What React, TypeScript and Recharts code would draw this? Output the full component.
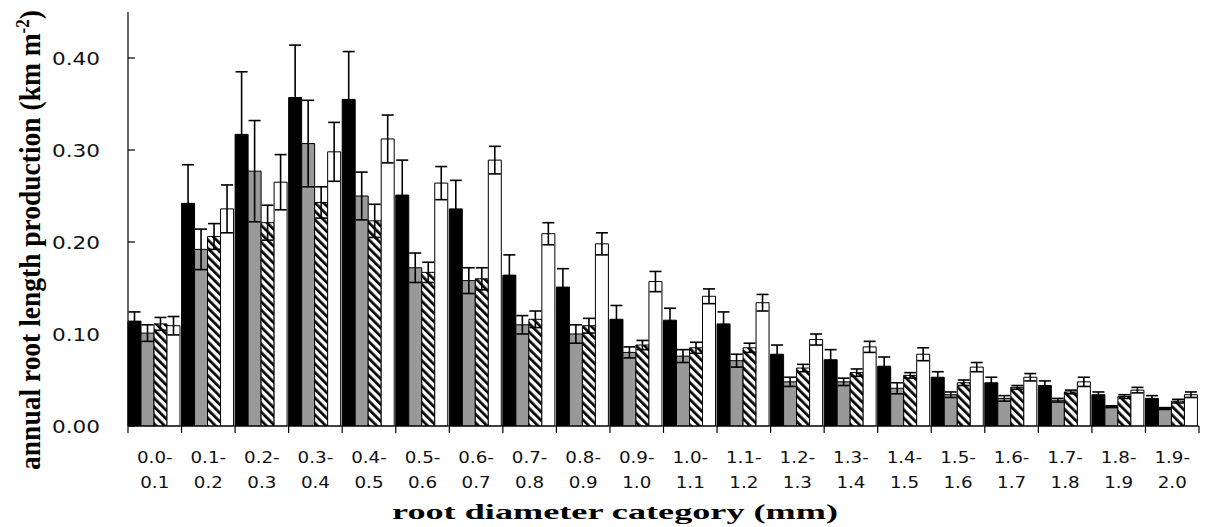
import React from 'react';
import { BarChart, Bar, XAxis, YAxis, ErrorBar } from 'recharts';

// Root diameter classes (mm)
const lowerBounds = ['0.0', '0.1', '0.2', '0.3', '0.4', '0.5', '0.6', '0.7', '0.8', '0.9',
  '1.0', '1.1', '1.2', '1.3', '1.4', '1.5', '1.6', '1.7', '1.8', '1.9'];
const upperBounds = ['0.1', '0.2', '0.3', '0.4', '0.5', '0.6', '0.7', '0.8', '0.9', '1.0',
  '1.1', '1.2', '1.3', '1.4', '1.5', '1.6', '1.7', '1.8', '1.9', '2.0'];

// Annual root length production (km m-2) and standard errors, four treatments
const seriesA = [0.114, 0.242, 0.317, 0.357, 0.355, 0.251, 0.236, 0.164, 0.151, 0.116,
  0.115, 0.111, 0.078, 0.072, 0.065, 0.053, 0.047, 0.044, 0.034, 0.030];
const errA = [0.010, 0.042, 0.068, 0.057, 0.052, 0.038, 0.031, 0.022, 0.020, 0.015,
  0.013, 0.013, 0.010, 0.011, 0.010, 0.006, 0.006, 0.005, 0.003, 0.003];

const seriesB = [0.101, 0.192, 0.277, 0.307, 0.250, 0.172, 0.158, 0.110, 0.100, 0.080,
  0.076, 0.071, 0.048, 0.048, 0.041, 0.034, 0.030, 0.028, 0.021, 0.019];
const errB = [0.009, 0.022, 0.055, 0.047, 0.026, 0.016, 0.014, 0.010, 0.010, 0.006,
  0.007, 0.007, 0.005, 0.004, 0.006, 0.003, 0.003, 0.002, 0.001, 0.001];

const seriesC = [0.111, 0.206, 0.221, 0.243, 0.223, 0.167, 0.160, 0.116, 0.109, 0.088,
  0.085, 0.085, 0.063, 0.058, 0.055, 0.047, 0.042, 0.037, 0.032, 0.027];
const errC = [0.007, 0.014, 0.019, 0.017, 0.018, 0.011, 0.012, 0.009, 0.008, 0.005,
  0.006, 0.005, 0.004, 0.004, 0.003, 0.003, 0.002, 0.002, 0.002, 0.002];

const seriesD = [0.109, 0.236, 0.265, 0.298, 0.312, 0.264, 0.289, 0.209, 0.198, 0.157,
  0.141, 0.134, 0.094, 0.086, 0.078, 0.064, 0.053, 0.048, 0.039, 0.034];
const errD = [0.010, 0.026, 0.030, 0.032, 0.026, 0.018, 0.015, 0.012, 0.012, 0.011,
  0.008, 0.009, 0.006, 0.006, 0.007, 0.005, 0.004, 0.005, 0.003, 0.003];

const yTicks = [0, 0.1, 0.2, 0.3, 0.4];

const data = lowerBounds.map((lo, i) => ({
  category: `${lo}-${upperBounds[i]}`,
  a: seriesA[i], aErr: errA[i],
  b: seriesB[i], bErr: errB[i],
  c: seriesC[i], cErr: errC[i],
  d: seriesD[i], dErr: errD[i],
}));

const CHART_W = 1195;
const CHART_H = 519;
const MARGIN = { top: 4, right: 4, left: 0, bottom: 41 };
const Y_AXIS_W = 120;
const HALF_BAND = (CHART_W - MARGIN.left - MARGIN.right - Y_AXIS_W) / lowerBounds.length / 2;

const TICK_FONT = '"DejaVu Sans", sans-serif';
const TITLE_FONT = '"Liberation Serif", "Times New Roman", serif';

function XTick(props: any) {
  const { x, y, payload, index } = props;
  const i = payload?.index ?? index;
  const half = payload?.offset || HALF_BAND;
  const last = i === lowerBounds.length - 1;
  return (
    <g>
      <line x1={x - half} x2={x - half} y1={y} y2={y + 7} stroke="#000" strokeWidth={1.2} />
      {last && <line x1={x + half} x2={x + half} y1={y} y2={y + 7} stroke="#000" strokeWidth={1.2} />}
      <text transform={`translate(${x},${y + 37}) scale(1.22,1)`} textAnchor="middle"
        fontSize={15} fontFamily={TICK_FONT} fill="#111">{`${lowerBounds[i]}-`}</text>
      <text transform={`translate(${x},${y + 62}) scale(1.22,1)`} textAnchor="middle"
        fontSize={15} fontFamily={TICK_FONT} fill="#111">{upperBounds[i]}</text>
    </g>
  );
}

function YTick(props: any) {
  const { x, y, payload } = props;
  return (
    <g>
      <line x1={x} x2={x + 7} y1={y} y2={y} stroke="#000" strokeWidth={1.2} />
      <text transform={`translate(${x - 28},${y + 6.5}) scale(1.2,1)`} textAnchor="end"
        fontSize={18} fontFamily={TICK_FONT} fill="#111">{Number(payload.value).toFixed(2)}</text>
    </g>
  );
}

function YTitle(props: any) {
  const vb = props.viewBox || { x: 0, y: 4, width: 120, height: 414 };
  const cx = vb.x + 32;
  const cy = vb.y + vb.height / 2 + 21;
  return (
    <text transform={`translate(${cx},${cy}) scale(1.1,1) rotate(-90)`} textAnchor="middle"
      fontSize={27.5} fontWeight="bold" fontFamily={TITLE_FONT} fill="#000">
      annual root length production (km m
      <tspan fontSize={17} dy={-10}>-2</tspan>
      <tspan fontSize={27.5} dy={10}>)</tspan>
    </text>
  );
}

function XTitle(props: any) {
  const vb = props.viewBox || { x: 120, y: 418, width: 1071, height: 60 };
  const cx = vb.x + 487;
  const baseY = vb.y + 93;
  return (
    <text x={cx} y={baseY} textAnchor="middle" fontSize={22} fontWeight="bold"
      fontFamily={TITLE_FONT} fill="#000" textLength={446} lengthAdjust="spacingAndGlyphs">
      root diameter category (mm)
    </text>
  );
}

export default function App() {
  return (
    <div style={{ width: CHART_W, height: CHART_H }}>
      <BarChart width={CHART_W} height={CHART_H} data={data} margin={MARGIN}
        barCategoryGap={0} barGap={0}>
        <defs>
          <pattern id="diagHatch" patternUnits="userSpaceOnUse" width={6} height={6}
            patternTransform="rotate(-45)">
            <rect x={0} y={0} width={6} height={6} fill="#fff" />
            <rect x={0} y={0} width={2.7} height={6} fill="#000" />
          </pattern>
        </defs>
        <XAxis dataKey="category" interval={0} height={60} tickSize={0} tickMargin={0}
          tickLine={false} axisLine={{ stroke: '#000', strokeWidth: 1.2 }}
          tick={<XTick />} label={<XTitle />} />
        <YAxis width={Y_AXIS_W} domain={[0, 0.45]} ticks={yTicks} interval={0}
          tickSize={0} tickMargin={0} tickLine={false}
          axisLine={{ stroke: '#000', strokeWidth: 1.2 }}
          tick={<YTick />} label={<YTitle />} />
        <Bar dataKey="a" fill="#000" stroke="#000" strokeWidth={1} isAnimationActive={false}>
          <ErrorBar dataKey="aErr" width={6} stroke="#000" strokeWidth={1.6} direction="y" isAnimationActive={false} />
        </Bar>
        <Bar dataKey="b" fill="#999" stroke="#000" strokeWidth={1} isAnimationActive={false}>
          <ErrorBar dataKey="bErr" width={6} stroke="#000" strokeWidth={1.6} direction="y" isAnimationActive={false} />
        </Bar>
        <Bar dataKey="c" fill="url(#diagHatch)" stroke="#000" strokeWidth={1} isAnimationActive={false}>
          <ErrorBar dataKey="cErr" width={6} stroke="#000" strokeWidth={1.6} direction="y" isAnimationActive={false} />
        </Bar>
        <Bar dataKey="d" fill="#fff" stroke="#000" strokeWidth={1} isAnimationActive={false}>
          <ErrorBar dataKey="dErr" width={6} stroke="#000" strokeWidth={1.6} direction="y" isAnimationActive={false} />
        </Bar>
      </BarChart>
    </div>
  );
}
